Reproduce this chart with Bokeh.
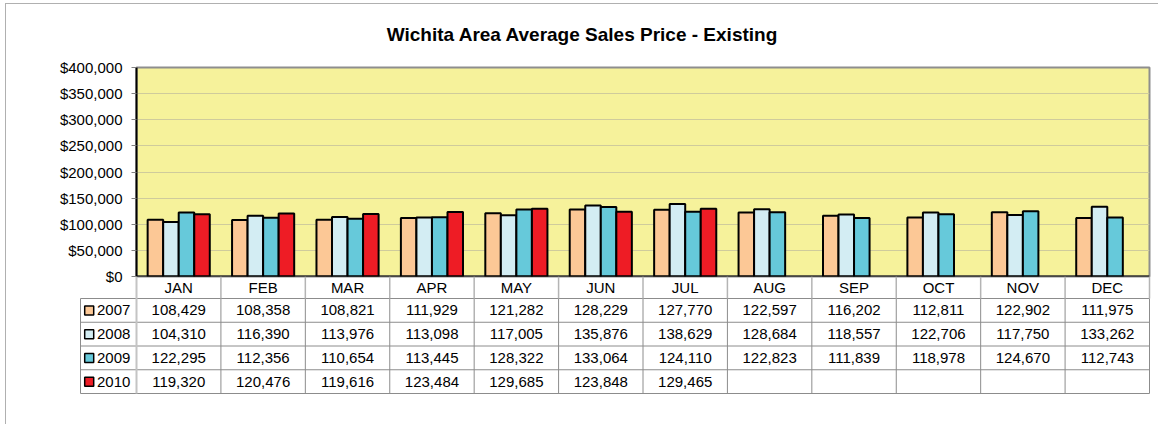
import numpy as np
from bokeh.plotting import figure
from bokeh.models import Range1d, ColumnDataSource, NumeralTickFormatter, FixedTicker, Span, Div
from bokeh.core.properties import value
from bokeh.transform import dodge
from bokeh.embed import file_html
from bokeh.resources import INLINE

TITLE = "Wichita Area Average Sales Price - Existing"
months = ["JAN", "FEB", "MAR", "APR", "MAY", "JUN", "JUL", "AUG", "SEP", "OCT", "NOV", "DEC"]
years = ["2007", "2008", "2009", "2010"]
v2007 = [108429, 108358, 108821, 111929, 121282, 128229, 127770, 122597, 116202, 112811, 122902, 111975]
v2008 = [104310, 116390, 113976, 113098, 117005, 135876, 138629, 128684, 118557, 122706, 117750, 133262]
v2009 = [122295, 112356, 110654, 113445, 128322, 133064, 124110, 122823, 111839, 118978, 124670, 112743]
v2010 = [119320, 120476, 119616, 123484, 129685, 123848, 129465, None, None, None, None, None]
y_ticks = [0, 50000, 100000, 150000, 200000, 250000, 300000, 350000, 400000]

colors = ["#fcc896", "#d3edf3", "#66c9da", "#ee1c25"]
series = [v2007, v2008, v2009, v2010]
FONT = "Liberation Sans"
BORDER = "1px solid #b0b0b0"

ox = 6                        # content left on page
frame_l, frame_r = 136, 1149
frame_t, frame_b = 68, 277
below = 12                    # room under the frame for the "$0" label
above = 12                    # room over the frame for the "$400,000" label
u = (frame_r - frame_l) / 12.0

# ---------------- title ----------------
title_h = 64
head = Div(text=TITLE, width=1153, height=title_h,
           styles={"margin-left": "5px", "margin-top": "3px", "border-left": BORDER, "border-top": BORDER,
                   "font-family": FONT, "font-size": "19px", "font-weight": "bold", "color": "black",
                   "text-align": "center", "line-height": "61px", "background": "white"})
pull_up = 17                  # overlap of the chart canvas with the (empty) bottom of the title block

# ---------------- chart ----------------
p = figure(width=1153, height=above + (frame_b - frame_t) + below, x_range=Range1d(0, 12),
           y_range=Range1d(0, 400000),
           x_axis_location=None, toolbar_location=None, output_backend="svg",
           min_border_left=frame_l - ox, min_border_right=1159 - frame_r,
           min_border_top=above, min_border_bottom=below,
           styles={"margin-left": "5px", "margin-top": f"-{pull_up}px", "border-left": BORDER})
p.background_fill_color = "#f6f29b"
p.border_fill_color = None
p.outline_line_color = "#8e8e8e"
p.outline_line_width = 2
p.xgrid.visible = False

data = {"x": [i + 0.5 for i in range(12)]}
for y, s in zip(years, series):
    data[y] = [np.nan if v is None else v for v in s]
src = ColumnDataSource(data)

bw = 0.184
for k, (y, c) in enumerate(zip(years, colors)):
    p.vbar(x=dodge("x", (k - 1.5) * bw, range=p.x_range), top=y, bottom=0, width=bw, source=src,
           fill_color=c, line_color="black", line_width=2)

p.yaxis.ticker = FixedTicker(ticks=y_ticks)
p.yaxis.formatter = NumeralTickFormatter(format="$0,0")
p.yaxis.major_label_text_font = FONT
p.yaxis.major_label_text_font_size = "15px"
p.yaxis.major_label_text_color = "black"
p.yaxis.axis_line_color = "black"
p.yaxis.axis_line_width = 2
p.yaxis.major_tick_line_color = "#808080"
p.yaxis.major_tick_out = 5
p.yaxis.major_tick_in = 0
p.yaxis.minor_tick_line_color = None
p.yaxis.major_label_standoff = 9
p.ygrid.grid_line_color = "#cfcb9c"
p.ygrid.grid_line_width = 1
p.add_layout(Span(location=0, dimension="width", line_color="black", line_width=2))

# ---------------- data table ----------------
t_left = 80
t_frame_l = t_left - 2
t_frame_r = 1151
row_h = 23.75
head_h = 22
x0 = -(frame_l - t_left) / u
xs = x0 - 2 / u
xe = 12 + (t_frame_r - frame_r) / u
ys = -4 - 2 / row_h
ye = head_h / row_h
frame_h = int(round(head_h + 4 * row_h + 2))
q_h = 148

q = figure(width=1153, height=q_h, x_range=Range1d(xs, xe), y_range=Range1d(ys, ye),
           x_axis_location=None, y_axis_location=None, toolbar_location=None, output_backend="svg",
           min_border_left=t_frame_l - ox, min_border_right=1159 - t_frame_r,
           min_border_top=0, min_border_bottom=q_h - frame_h,
           styles={"margin-left": "5px", "margin-top": f"-{below}px", "border-left": BORDER})
q.outline_line_color = None
q.grid.visible = False
q.background_fill_color = None
q.border_fill_color = None

n_rows = len(years)
q.segment(x0=[x0] * (n_rows + 1), y0=[-r for r in range(n_rows + 1)],
          x1=[12] * (n_rows + 1), y1=[-r for r in range(n_rows + 1)],
          line_color="#8c8c8c", line_width=1)
vx = [x0] + list(range(1, 13))
q.segment(x0=vx, y0=[-n_rows] * len(vx), x1=vx, y1=[0] * len(vx), line_color="#8c8c8c", line_width=1)
hx = list(range(1, 13))
q.segment(x0=hx, y0=[0] * len(hx), x1=hx, y1=[ye] * len(hx), line_color="#b4b4b4", line_width=1.5)
q.segment(x0=[0], y0=[-n_rows], x1=[0], y1=[ye], line_color="#c4c4c4", line_width=2)

q.text(x=[i + 0.5 for i in range(12)], y=[ye / 2] * 12, text=months, text_font=value(FONT),
       text_font_size="15px", text_align="center", text_baseline="middle", text_color="black")

tx, ty, tt = [], [], []
for r, s in enumerate(series):
    for i, v in enumerate(s):
        if v is not None:
            tx.append(i + 0.5)
            ty.append(-(r + 0.5))
            tt.append(f"{v:,}")
q.text(x=tx, y=ty, text=tt, text_font=value(FONT), text_font_size="15px", text_align="center",
       text_baseline="middle", text_color="black")

q.scatter(x=[x0 + 8.7 / u] * n_rows, y=[-(r + 0.5) for r in range(n_rows)], marker="square", size=9,
          fill_color=colors, line_color="black", line_width=1.5)
q.text(x=[x0 + 16.5 / u] * n_rows, y=[-(r + 0.5) for r in range(n_rows)], text=years,
       text_font=value(FONT), text_font_size="15px", text_align="left", text_baseline="middle",
       text_color="black")

open("out.html", "w").write(file_html([head, p, q], INLINE))
